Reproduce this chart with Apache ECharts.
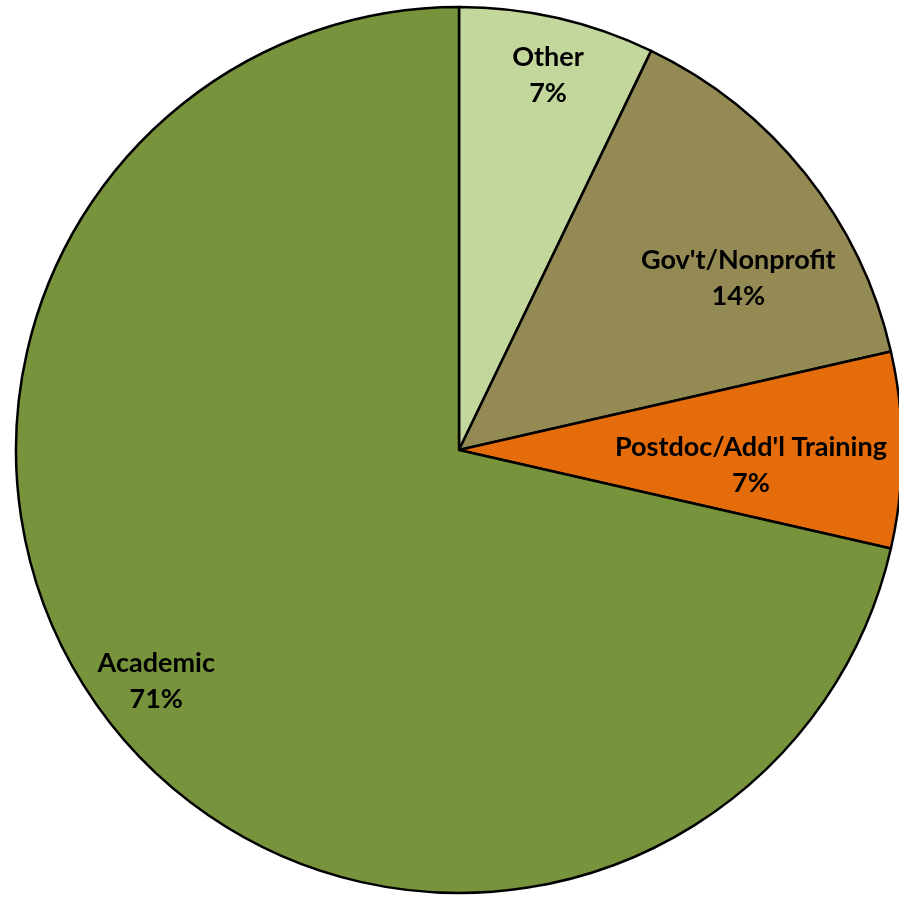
<!DOCTYPE html>
<html style="height: 100%">
<head>
    <meta charset="utf-8">
    <script src="https://cdn.jsdelivr.net/npm/echarts@6/dist/echarts.min.js"></script>
</head>
<body style="height: 100%; margin: 0; background: #fff">
    <div id="container" style="width: 899px; height: 897px"></div>
    <script type="text/javascript">
        // share of graduates by first position (counts out of 14)
        var categories = ['Other', "Gov't/Nonprofit", "Postdoc/Add'l Training", 'Academic'];
        var counts = [1, 2, 1, 10];
        var colors = ['#C3D69B', '#948A54', '#E46C0A', '#77933C'];

        // label placement: fraction of radius, and a small angle nudge (deg)
        var labelRadius = [0.87, 0.74, 0.66, 0.86];
        var labelNudge = [0.5, 7, 3, 1.2];

        var cx = 459, cy = 450, R = 443;
        var total = counts.reduce(function (a, b) { return a + b; }, 0);

        function midAngle(i) {
            var before = 0;
            for (var k = 0; k < i; k++) before += counts[k];
            return (before + counts[i] / 2) / total * 360;
        }

        var chart = echarts.init(document.getElementById('container'));
        var option = {
            animation: false,
            series: [{
                type: 'pie',
                center: [cx, cy],
                radius: R,
                startAngle: 90,
                clockwise: true,
                emphasis: { disabled: true },
                itemStyle: { borderColor: '#000', borderWidth: 2.5 },
                label: {
                    show: true,
                    position: 'inside',
                    formatter: function (p) {
                        return p.name + '\n' + Math.round(p.value / total * 100) + '%';
                    },
                    fontFamily: 'Lato',
                    fontWeight: 'bold',
                    fontSize: 27,
                    lineHeight: 36,
                    color: '#000'
                },
                labelLayout: function (params) {
                    var i = params.dataIndex;
                    var a = (midAngle(i) + labelNudge[i]) * Math.PI / 180;
                    var r = R * labelRadius[i];
                    return { x: cx + r * Math.sin(a), y: cy - r * Math.cos(a) };
                },
                data: categories.map(function (name, i) {
                    return { name: name, value: counts[i], itemStyle: { color: colors[i] } };
                })
            }]
        };
        chart.setOption(option);
    </script>
</body>
</html>
